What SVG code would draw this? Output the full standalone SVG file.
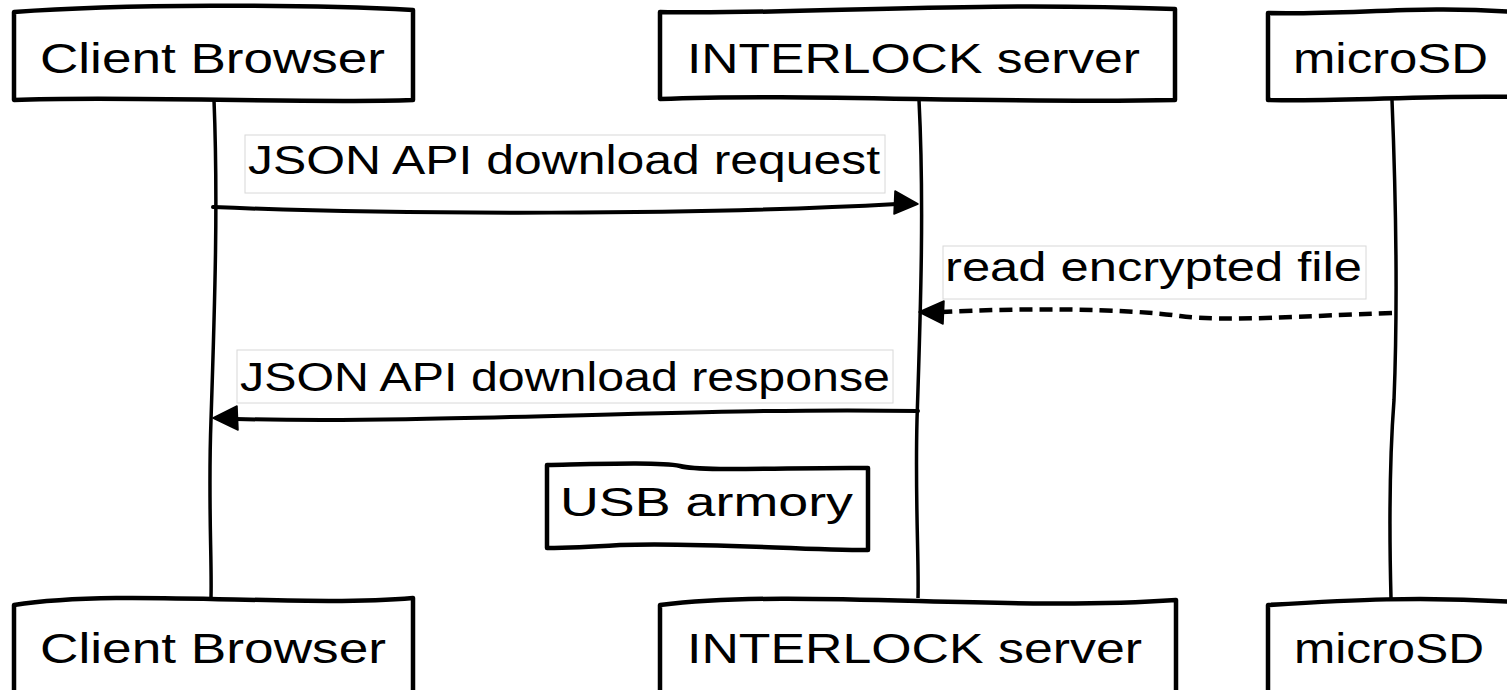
<svg xmlns="http://www.w3.org/2000/svg" width="1507" height="690" viewBox="0 0 1507 690">
<style>
.box{fill:#fff;stroke:#000;stroke-width:4.5;stroke-linejoin:round}
.life{fill:none;stroke:#000;stroke-width:3.5}
.msg{fill:none;stroke:#000;stroke-width:4;stroke-linecap:round}
.dash{stroke-dasharray:13 7;stroke-width:4.5;stroke-linecap:butt}
.lbl{fill:#fff;stroke:#d8d8d8;stroke-width:1}
.head{fill:#000;stroke:#000;stroke-width:1.5;stroke-linejoin:round}
text{font-family:"Liberation Sans",Arial,sans-serif;fill:#000}
.t{font-size:43px}
.l{font-size:40px}
</style>
<rect width="1507" height="690" fill="#fff"/>
<g id="lifelines">
<path class="life" d="M214,100 C218,200 215,300 211,420 C208,500 212,560 211,598"/>
<path class="life" d="M919,100 C924,200 921,300 917,420 C915,500 919,560 918,598"/>
<path class="life" d="M1392,100 C1396,200 1398,300 1394,400 C1388,480 1390,560 1391,598"/>
</g>
<g id="client-top">
<path class="box" d="M14,12 C120,4 300,4 413,10 L413,100 C300,104 120,95 14,100 Z"/>
<text class="t" x="40" y="73" textLength="345" lengthAdjust="spacingAndGlyphs">Client Browser</text>
</g>
<g id="interlock-top">
<path class="box" d="M660,12 C800,15 950,1 1175,9 L1175,100 C1000,104 800,93 660,99 Z"/>
<text class="t" x="687" y="73" textLength="453" lengthAdjust="spacingAndGlyphs">INTERLOCK server</text>
</g>
<g id="microsd-top">
<path class="box" d="M1268,13 C1350,15 1420,5 1515,12 L1515,97 C1420,95 1350,102 1268,100 Z"/>
<text class="t" x="1293" y="73" textLength="195" lengthAdjust="spacingAndGlyphs">microSD</text>
</g>
<g id="client-bottom">
<path class="box" d="M14,605 C120,588 300,608 413,598 L413,695 L14,695 Z"/>
<text class="t" x="40" y="663" textLength="346" lengthAdjust="spacingAndGlyphs">Client Browser</text>
</g>
<g id="interlock-bottom">
<path class="box" d="M660,605 C800,588 1000,612 1176,600 L1176,695 L660,695 Z"/>
<text class="t" x="687" y="663" textLength="455" lengthAdjust="spacingAndGlyphs">INTERLOCK server</text>
</g>
<g id="microsd-bottom">
<path class="box" d="M1268,605 C1350,600 1420,596 1515,602 L1515,695 L1268,695 Z"/>
<text class="t" x="1294" y="663" textLength="190" lengthAdjust="spacingAndGlyphs">microSD</text>
</g>
<g id="connectors">
<path class="msg" d="M213,207 C400,215 700,215 897,204"/>
<polygon class="head" points="918,204 895,191 894,214"/>
<path class="msg dash" d="M1392,313 C1300,316 1230,322 1180,316 C1120,308 1020,308 942,312"/>
<polygon class="head" points="919,312 944,301 943,324"/>
<path class="msg" d="M918,411 C700,407 450,424 236,419"/>
<polygon class="head" points="213,418 237,406 238,430"/>
</g>
<g id="label-request">
<rect class="lbl" x="245" y="135" width="640" height="58"/>
<text class="l" x="248" y="174" textLength="632" lengthAdjust="spacingAndGlyphs">JSON API download request</text>
</g>
<g id="label-read">
<rect class="lbl" x="943" y="246" width="423" height="53"/>
<text class="l" x="945" y="281" textLength="417" lengthAdjust="spacingAndGlyphs">read encrypted file</text>
</g>
<g id="label-response">
<rect class="lbl" x="237" y="350" width="656" height="53"/>
<text class="l" x="240" y="391" textLength="650" lengthAdjust="spacingAndGlyphs">JSON API download response</text>
</g>
<g id="usb-armory">
<path class="box" d="M547,465 C600,464 660,462 680,466 C700,472 800,467 868,468 L868,550 C800,550 700,542 620,545 C590,547 560,548 547,548 Z"/>
<text class="l" x="560" y="516" textLength="293" lengthAdjust="spacingAndGlyphs">USB armory</text>
</g>
</svg>
